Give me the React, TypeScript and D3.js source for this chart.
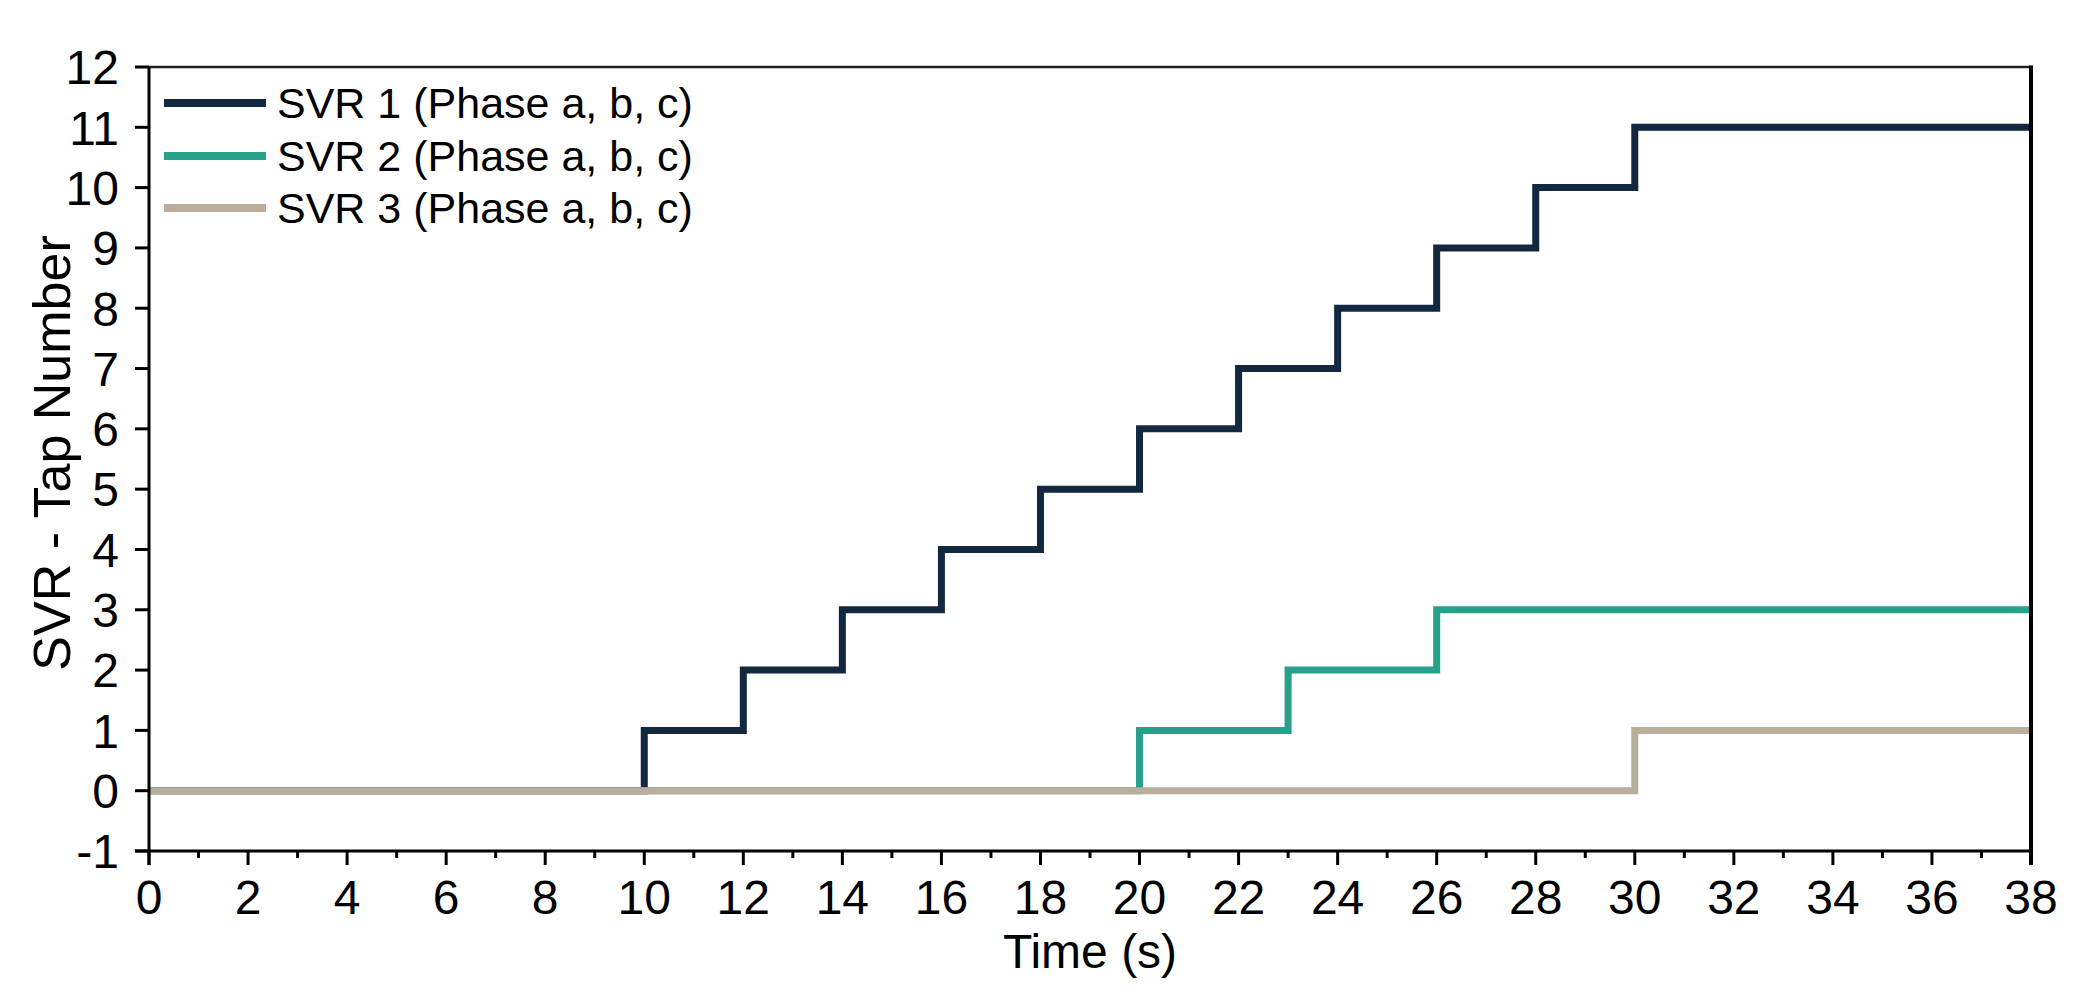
import React, { useEffect, useRef } from "react";
import * as d3 from "d3";

const WIDTH = 2090;
const HEIGHT = 999;
const MARGIN = { top: 67, right: 59, bottom: 148, left: 149 };

const SVR1_TIME = [0, 10, 12, 14, 16, 18, 20, 22, 24, 26, 28, 30, 38];
const SVR1_TAP = [0, 1, 2, 3, 4, 5, 6, 7, 8, 9, 10, 11, 11];
const SVR2_TIME = [0, 20, 23, 26, 38];
const SVR2_TAP = [0, 1, 2, 3, 3];
const SVR3_TIME = [0, 30, 38];
const SVR3_TAP = [0, 1, 1];

const SERIES = [
  { name: "SVR 1 (Phase a, b, c)", time: SVR1_TIME, tap: SVR1_TAP, color: "#13283f" },
  { name: "SVR 2 (Phase a, b, c)", time: SVR2_TIME, tap: SVR2_TAP, color: "#27a08c" },
  { name: "SVR 3 (Phase a, b, c)", time: SVR3_TIME, tap: SVR3_TAP, color: "#b9ad9c" },
];

const X_MAJOR = d3.range(0, 39, 2);
const X_MINOR = d3.range(1, 38, 2);
const Y_TICKS = d3.range(-1, 13, 1);

const FONT = "Arial, 'Liberation Sans', sans-serif";

export default function App() {
  const svgRef = useRef<SVGSVGElement | null>(null);

  useEffect(() => {
    const svg = svgRef.current;
    if (!svg) return;
    document.body.style.margin = "0";
    const root = d3.select(svg);
    root.selectAll("*").remove();

    const x = d3.scaleLinear().domain([0, 38]).range([MARGIN.left, WIDTH - MARGIN.right]);
    const y = d3.scaleLinear().domain([-1, 12]).range([HEIGHT - MARGIN.bottom, MARGIN.top]);
    const [x0, x1] = x.range();
    const [y0, y1] = y.range();

    root.append("rect").attr("width", WIDTH).attr("height", HEIGHT).attr("fill", "#fff");

    // series (SVR 3 drawn last so it sits on top at zero)
    SERIES.forEach((s) => {
      const pts = s.time.map((t, i) => [t, s.tap[i]] as [number, number]);
      const line = d3
        .line<[number, number]>()
        .x((d) => x(d[0]))
        .y((d) => y(d[1]))
        .curve(d3.curveStepAfter);
      root
        .append("path")
        .datum(pts)
        .attr("d", line)
        .attr("fill", "none")
        .attr("stroke", s.color)
        .attr("stroke-width", 7)
        .attr("stroke-linejoin", "miter")
        .attr("stroke-linecap", "butt");
    });

    // frame
    root
      .append("line")
      .attr("x1", x0)
      .attr("x2", x1)
      .attr("y1", y1)
      .attr("y2", y1)
      .attr("stroke", "#222")
      .attr("stroke-width", 2.5);
    root
      .append("line")
      .attr("x1", x1)
      .attr("x2", x1)
      .attr("y1", y1 - 1.5)
      .attr("y2", y0 + 14)
      .attr("stroke", "#000")
      .attr("stroke-width", 4);
    root
      .append("line")
      .attr("x1", x0)
      .attr("x2", x0)
      .attr("y1", y1)
      .attr("y2", y0 + 14)
      .attr("stroke", "#000")
      .attr("stroke-width", 3);
    root
      .append("line")
      .attr("x1", x0 - 14)
      .attr("x2", x1)
      .attr("y1", y0)
      .attr("y2", y0)
      .attr("stroke", "#000")
      .attr("stroke-width", 3);

    // x ticks
    X_MAJOR.forEach((v) => {
      root
        .append("line")
        .attr("x1", x(v))
        .attr("x2", x(v))
        .attr("y1", y0)
        .attr("y2", y0 + 14)
        .attr("stroke", "#000")
        .attr("stroke-width", 3);
      root
        .append("text")
        .attr("x", x(v))
        .attr("y", 914)
        .attr("text-anchor", "middle")
        .style("font", `48px ${FONT}`)
        .attr("fill", "#000")
        .text(String(v));
    });
    X_MINOR.forEach((v) => {
      root
        .append("line")
        .attr("x1", x(v))
        .attr("x2", x(v))
        .attr("y1", y0)
        .attr("y2", y0 + 7)
        .attr("stroke", "#000")
        .attr("stroke-width", 3);
    });

    // y ticks
    Y_TICKS.forEach((v) => {
      root
        .append("line")
        .attr("x1", x0 - 14)
        .attr("x2", x0)
        .attr("y1", y(v))
        .attr("y2", y(v))
        .attr("stroke", "#000")
        .attr("stroke-width", 3);
      root
        .append("text")
        .attr("x", 119)
        .attr("y", y(v))
        .attr("dy", "0.36em")
        .attr("text-anchor", "end")
        .style("font", `48px ${FONT}`)
        .attr("fill", "#000")
        .text(String(v));
    });

    // axis titles
    root
      .append("text")
      .attr("x", (x0 + x1) / 2)
      .attr("y", 968)
      .attr("text-anchor", "middle")
      .style("font", `48px ${FONT}`)
      .attr("fill", "#000")
      .text("Time (s)");
    root
      .append("text")
      .attr("transform", `translate(70,${(y0 + y1) / 2 - 6}) rotate(-90)`)
      .attr("text-anchor", "middle")
      .style("font", `52px ${FONT}`)
      .attr("fill", "#000")
      .text("SVR - Tap Number");

    // legend
    const legendRows = [103, 156, 208];
    SERIES.forEach((s, i) => {
      const ly = legendRows[i];
      root
        .append("line")
        .attr("x1", 164)
        .attr("x2", 266)
        .attr("y1", ly)
        .attr("y2", ly)
        .attr("stroke", s.color)
        .attr("stroke-width", 8);
      root
        .append("text")
        .attr("x", 277)
        .attr("y", ly)
        .attr("dy", "0.36em")
        .style("font", `43px ${FONT}`)
        .attr("fill", "#000")
        .text(s.name);
    });
  }, []);

  return (
    <div style={{ position: "absolute", left: 0, top: 0 }}>
      <svg ref={svgRef} width={WIDTH} height={HEIGHT} />
    </div>
  );
}
